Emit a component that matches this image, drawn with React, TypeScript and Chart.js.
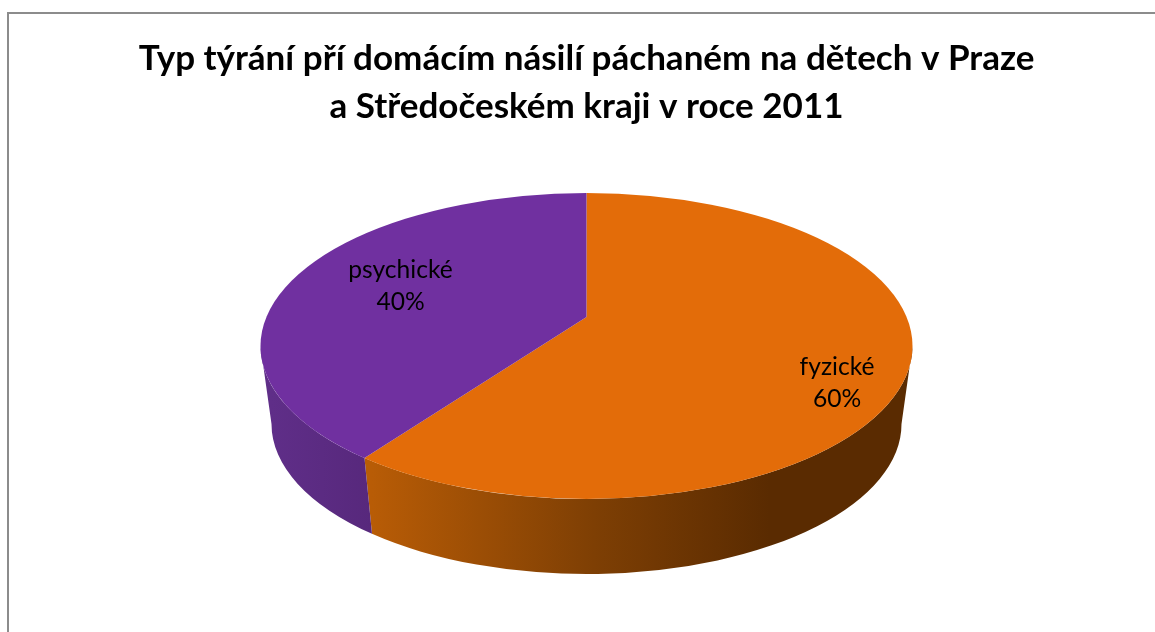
import React, { useEffect, useRef } from "react";
import { Chart, registerables } from "chart.js";

Chart.register(...registerables);

const titleLines = [
  "Typ týrání pří domácím násilí páchaném na dětech v Praze",
  "a Středočeském kraji v roce 2011",
];
const categories = ["fyzické", "psychické"];
const shares = [60, 40];
const topColors = ["#E36C09", "#7030A0"];
const sideStops = [
  ["#B85C06", "#7E3F04", "#5A2B01"],
  ["#5F2E88", "#57287C"],
];

// Perspective look of the pie: sector scale around the vertex, then the rim ellipses.
const SX = 2.8;
const SY = 2.8 * 0.4616;
const TOP = { dx: 0, dy: 29, rx: 326, ry: 153 };
const BOTTOM = { dx: 0, dy: 107, rx: 315, ry: 150 };
const LABEL_OFFSETS = [
  { x: 250.5, y: 66 },
  { x: -186, y: -31 },
];

function rayParam(angle: number) {
  const dx = SX * Math.cos(angle);
  const dy = SY * Math.sin(angle);
  const a = (dx * dx) / (TOP.rx * TOP.rx) + (dy * dy) / (TOP.ry * TOP.ry);
  const b = (-2 * dy * TOP.dy) / (TOP.ry * TOP.ry);
  const c = (TOP.dy * TOP.dy) / (TOP.ry * TOP.ry) - 1;
  const s = (-b + Math.sqrt(b * b - 4 * a * c)) / (2 * a);
  return Math.atan2((s * dy - TOP.dy) / TOP.ry, (s * dx) / TOP.rx);
}

const pie3d = {
  id: "pie3d",
  beforeDatasetsDraw(chart: any) {
    const { ctx } = chart;
    const arcs = chart.getDatasetMeta(0).data;
    const { x, y } = arcs[0];
    // sides
    arcs.forEach((arc: any, i: number) => {
      let t0 = rayParam(arc.startAngle);
      let t1 = rayParam(arc.endAngle);
      const full = Math.PI * 2;
      while (t1 <= t0) t1 += full;
      t0 = Math.max(t0, 0);
      t1 = Math.min(t1, Math.PI);
      if (i === 1) {
        t0 = rayParam(arc.startAngle);
        t1 = Math.PI;
      }
      if (t1 <= t0) return;
      const x0 = x + BOTTOM.rx * Math.cos(t1);
      const x1 = x + BOTTOM.rx * Math.cos(t0);
      const g = ctx.createLinearGradient(x0, 0, x1, 0);
      const stops = sideStops[i];
      if (stops.length === 3) {
        g.addColorStop(0, stops[0]);
        g.addColorStop(0.42, stops[1]);
        g.addColorStop(0.75, stops[2]);
        g.addColorStop(1, stops[2]);
      } else {
        stops.forEach((c, k) => g.addColorStop(k / (stops.length - 1), c));
      }
      ctx.save();
      ctx.fillStyle = g;
      ctx.beginPath();
      ctx.ellipse(x, y + TOP.dy, TOP.rx, TOP.ry, 0, t0, t1);
      ctx.ellipse(x, y + BOTTOM.dy, BOTTOM.rx, BOTTOM.ry, 0, t1, t0, true);
      ctx.closePath();
      ctx.fill();
      ctx.restore();
    });
    // top face
    ctx.save();
    ctx.beginPath();
    ctx.ellipse(x, y + TOP.dy, TOP.rx, TOP.ry, 0, 0, Math.PI * 2);
    ctx.clip();
    ctx.translate(x, y);
    ctx.scale(SX, SY);
    ctx.translate(-x, -y);
  },
  afterDatasetsDraw(chart: any) {
    const { ctx } = chart;
    ctx.restore();
    const arcs = chart.getDatasetMeta(0).data;
    const { x, y } = arcs[0];
    const values = chart.data.datasets[0].data as number[];
    const total = values.reduce((a, b) => a + b, 0);
    ctx.save();
    ctx.fillStyle = "#000000";
    ctx.font = '24.6px Lato, "Open Sans", sans-serif';
    ctx.textAlign = "center";
    ctx.textBaseline = "middle";
    arcs.forEach((_: any, i: number) => {
      const lx = x + LABEL_OFFSETS[i].x;
      const ly = y + LABEL_OFFSETS[i].y;
      ctx.fillText(String(chart.data.labels[i]), lx, ly - 16);
      ctx.fillText(`${Math.round((values[i] / total) * 100)}%`, lx, ly + 16);
    });
    ctx.restore();
  },
};

export default function App() {
  const ref = useRef<HTMLCanvasElement>(null);
  useEffect(() => {
    if (!ref.current) return;
    const chart = new Chart(ref.current, {
      type: "pie",
      data: {
        labels: categories,
        datasets: [
          {
            data: shares,
            backgroundColor: topColors,
            borderWidth: 0,
            clip: false,
          } as any,
        ],
      },
      options: {
        responsive: false,
        animation: false,
        layout: { padding: { left: 18, right: 0, top: 35, bottom: 165 } },
        plugins: {
          legend: { display: false },
          tooltip: { enabled: false },
          title: {
            display: true,
            text: titleLines,
            color: "#000000",
            font: { family: 'Lato, "Open Sans", sans-serif', size: 35, weight: "bold", lineHeight: 48 / 35 },
            padding: { top: 0, bottom: 36 },
          },
        },
      },
      plugins: [pie3d],
    });
    return () => chart.destroy();
  }, []);
  return (
    <div style={{ position: "fixed", left: 0, top: 0, width: 1155, height: 632, overflow: "hidden", background: "#fff" }}>
      <canvas ref={ref} width={1155} height={632} style={{ position: "absolute", left: 0, top: 0 }} />
      <div
        style={{
          position: "absolute",
          left: 7,
          top: 12,
          width: 1200,
          height: 700,
          borderLeft: "2px solid #8C8C8C",
          borderTop: "2px solid #8C8C8C",
        }}
      />
    </div>
  );
}
